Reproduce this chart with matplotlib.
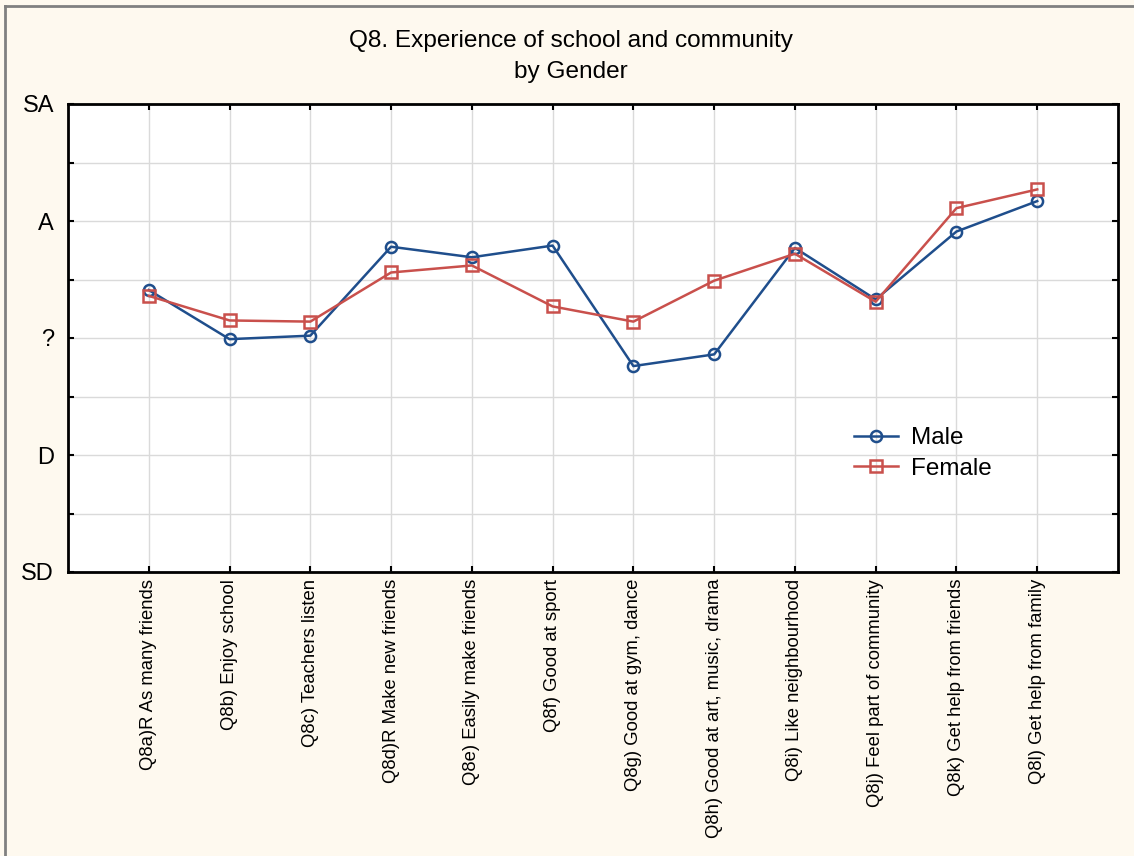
import numpy as np
import matplotlib
matplotlib.use("Agg")
import matplotlib.pyplot as plt
from matplotlib.lines import Line2D

plt.rcParams['font.family'] = ['Liberation Sans', 'DejaVu Sans']

categories = [
    'Q8a)R As many friends',
    'Q8b) Enjoy school',
    'Q8c) Teachers listen',
    'Q8d)R Make new friends',
    'Q8e) Easily make friends',
    'Q8f) Good at sport',
    'Q8g) Good at gym, dance',
    'Q8h) Good at art, music, drama',
    'Q8i) Like neighbourhood',
    'Q8j) Feel part of community',
    'Q8k) Get help from friends',
    'Q8l) Get help from family',
]
male = [3.41, 2.99, 3.02, 3.78, 3.69, 3.79, 2.76, 2.86, 3.77, 3.33, 3.91, 4.17]
female = [3.36, 3.15, 3.14, 3.56, 3.62, 3.27, 3.14, 3.49, 3.72, 3.31, 4.11, 4.27]
scale_vals = [1, 2, 3, 4, 5]
scale_labels = ['SD', 'D', '?', 'A', 'SA']

bg = '#FEF9EF'
fig = plt.figure(figsize=(11.34, 8.56), dpi=100, facecolor=bg)
ax = fig.add_axes([68/1134, 1 - 572/856, (1118 - 68)/1134, (572 - 104)/856])
ax.set_facecolor('white')

x = np.arange(len(categories))
ax.plot(x, male, '-o', color='#1F4E8C', lw=1.8, ms=8, mfc='none', mew=1.8, label='Male', zorder=3)
ax.plot(x, female, '-s', color='#C9504C', lw=1.8, ms=8, mfc='none', mew=1.8, label='Female', zorder=3)

ax.set_xlim(-1, len(categories))
ax.set_ylim(1, 5)
ax.set_xticks(x)
ax.set_xticklabels(categories, rotation=90, fontsize=13.3)
ax.set_yticks(scale_vals)
ax.set_yticklabels(scale_labels, fontsize=17)
ax.set_yticks(np.arange(1.5, 5, 1), minor=True)
ax.grid(True, which='both', color='#DADADA', lw=1)
ax.set_axisbelow(True)
ax.tick_params(axis='y', which='both', direction='in', length=4, width=1.5, pad=10, right=True)
ax.tick_params(axis='x', direction='in', length=4, width=1.5, pad=5, top=True)
for s in ax.spines.values():
    s.set_linewidth(2)

fig.text(571/1134, 1 - 41/856, 'Q8. Experience of school and community', ha='center', va='center', fontsize=17.6)
fig.text(571/1134, 1 - 72/856, 'by Gender', ha='center', va='center', fontsize=17.6)

leg = ax.legend(loc='center left', bbox_to_anchor=(0.7276, 0.253), frameon=False, fontsize=17.5,
                handlelength=1.8, handletextpad=0.55, labelspacing=0.35)

# grey frame lines on top and left edge
fig.add_artist(Line2D([5/1134, 5/1134], [0, 1 - 6/856], transform=fig.transFigure, color='#808080', lw=2))
fig.add_artist(Line2D([5/1134, 1], [1 - 6/856, 1 - 6/856], transform=fig.transFigure, color='#808080', lw=2))

fig.savefig('out.png', dpi=100, facecolor=bg)
